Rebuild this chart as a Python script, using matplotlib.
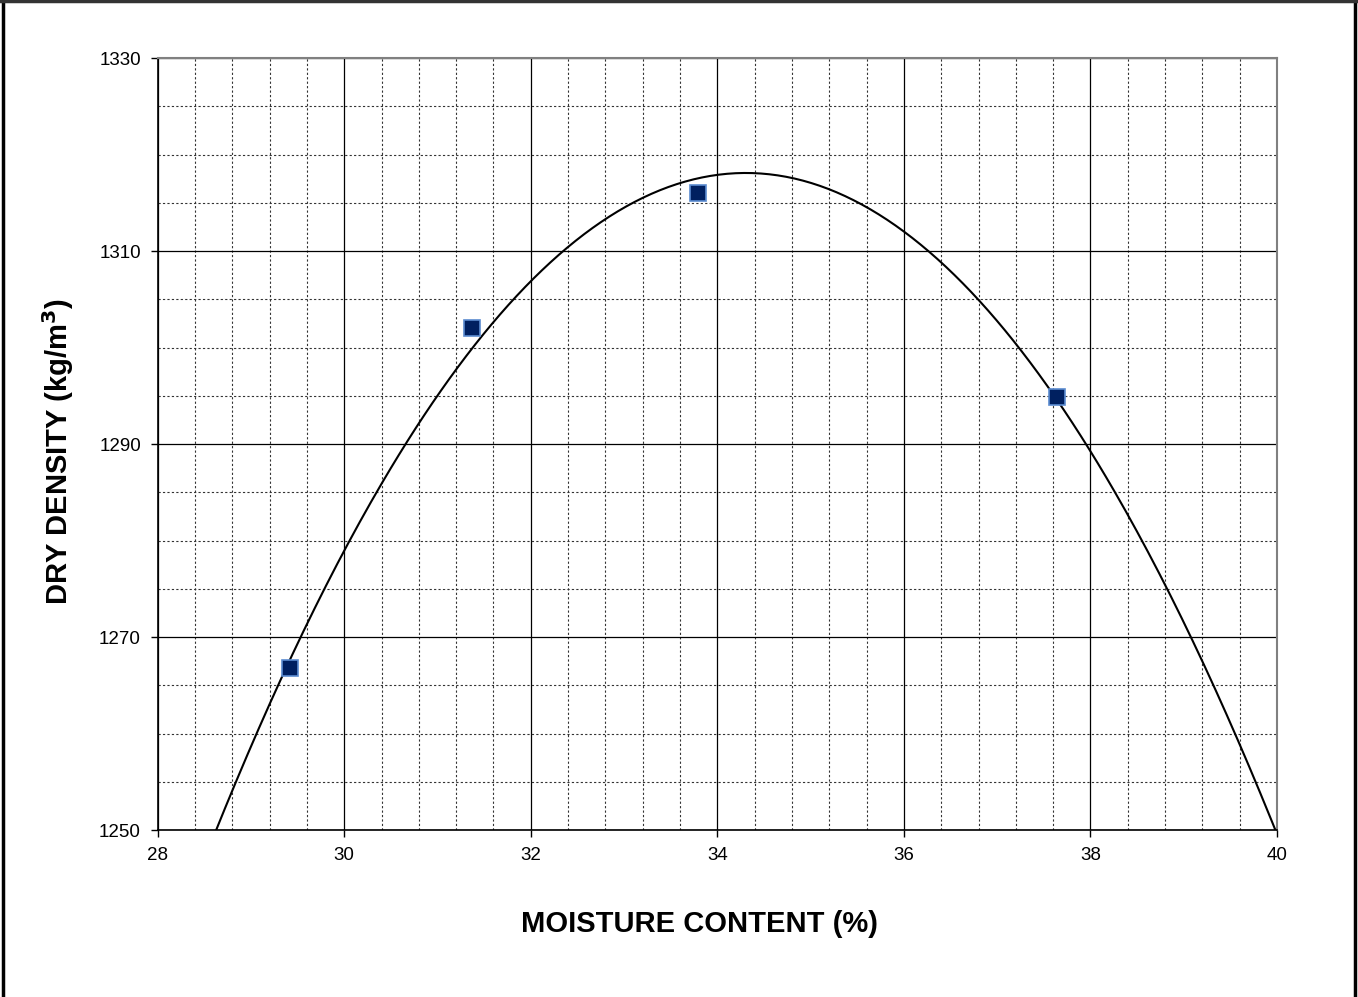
import numpy as np
import matplotlib
matplotlib.use("Agg")
import matplotlib.pyplot as plt
from matplotlib.lines import Line2D
from matplotlib.ticker import MultipleLocator

plt.rcParams['font.family'] = ['Liberation Sans', 'DejaVu Sans']

# test points
moisture = [29.42, 31.37, 33.79, 37.64]
density = [1266.8, 1302.0, 1316.0, 1294.9]

xticks = [28, 30, 32, 34, 36, 38, 40]
yticks = [1250, 1270, 1290, 1310, 1330]

# 2nd order trendline through the points
coef = np.polyfit(moisture, density, 2)
xs = np.linspace(28, 40, 400)
ys = np.polyval(coef, xs)

fig = plt.figure(figsize=(13.58, 9.97), dpi=100)
ax = fig.add_axes([0.1161, 0.1675, 0.8243, 0.7743])

ax.plot(xs, ys, color='black', lw=1.5, zorder=3)
ax.plot(moisture, density, ls='none', marker='s', ms=12, mfc='#002060',
        mec='#5B8BD0', mew=1.2, zorder=4)

ax.set_xlim(28, 40)
ax.set_ylim(1250, 1330)
ax.set_xticks(xticks)
ax.set_yticks(yticks)
ax.xaxis.set_minor_locator(MultipleLocator(0.4))
ax.yaxis.set_minor_locator(MultipleLocator(5))

ax.grid(which='major', color='black', lw=0.9, ls='-')
ax.grid(which='minor', color='#333333', lw=0.8, ls=(0, (2, 2)))
ax.set_axisbelow(True)

ax.tick_params(which='major', direction='out', length=5, width=1, labelsize=13.5, pad=7)
ax.tick_params(which='minor', length=0)

for s in ['left', 'bottom']:
    ax.spines[s].set_color('black')
    ax.spines[s].set_linewidth(1.2)
for s in ['top', 'right']:
    ax.spines[s].set_color('#808080')
    ax.spines[s].set_linewidth(1.5)

fig.text(0.515, 0.073, 'MOISTURE CONTENT (%)', ha='center', va='center',
         fontsize=21, fontweight='bold')
fig.text(0.043, 0.547, 'DRY DENSITY (kg/m$^\\mathbf{3}$)', ha='center', va='center',
         rotation=90, fontsize=21, fontweight='bold')

# frame around the chart object
fig.add_artist(Line2D([0.002, 0.002], [0, 1], color='black', lw=2.5))
fig.add_artist(Line2D([0.998, 0.998], [0, 1], color='black', lw=2.5))
fig.add_artist(Line2D([0, 1], [0.9985, 0.9985], color='#333333', lw=2.5))

fig.savefig('out.png', dpi=100)
